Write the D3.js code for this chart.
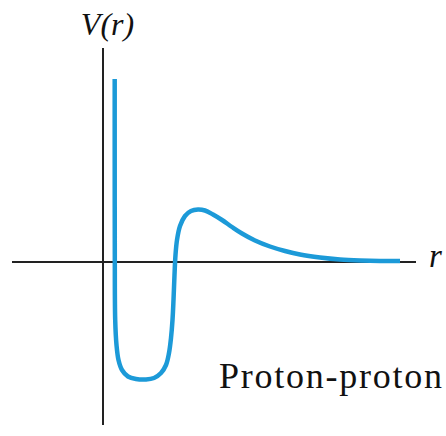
<!DOCTYPE html>
<html>
<head>
<meta charset="utf-8">
<script src="https://cdn.jsdelivr.net/npm/d3@7"></script>
</head>
<body style="margin:0;background:#fff">
<svg id="chart" width="446" height="436" style="display:block"></svg>
<script>
// Proton-proton potential V(r): separation r and potential value V (arbitrary units)
const rValues = [0.117, 0.117, 0.118, 0.122, 0.135, 0.155, 0.19, 0.25, 0.33, 0.43,
  0.51, 0.58, 0.63, 0.66, 0.68, 0.695, 0.705, 0.715, 0.725, 0.74,
  0.77, 0.82, 0.88, 0.95, 1.02, 1.10, 1.19, 1.29, 1.39, 1.52,
  1.67, 1.82, 1.97, 2.17, 2.37, 2.57, 2.77, 2.97];
const vValues = [1.83, 1.12, 0.12, -0.58, -0.83, -0.98, -1.08, -1.145, -1.17, -1.175,
  -1.16, -1.11, -1.03, -0.91, -0.76, -0.58, -0.38, -0.13, 0.07, 0.22,
  0.36, 0.46, 0.51, 0.525, 0.515, 0.475, 0.42, 0.35, 0.285, 0.215,
  0.155, 0.11, 0.075, 0.045, 0.025, 0.015, 0.01, 0.01];
const rExtent = [-0.91, 3.13];
const vExtent = [-1.63, 2.14];
const axisLabels = { y: "V(r)", x: "r" };
const curveLabel = "Proton-proton";

const svg = d3.select("#chart");
const x = d3.scaleLinear().domain(rExtent).range([12, 416]);
const y = d3.scaleLinear().domain(vExtent).range([425, 48]);

const axisColor = "#222";
const serif = "'Times New Roman', 'Liberation Serif', Times, serif";

// axes through the origin
svg.append("line")
  .attr("x1", x(rExtent[0])).attr("x2", x(rExtent[1]))
  .attr("y1", y(0)).attr("y2", y(0))
  .attr("stroke", axisColor).attr("stroke-width", 2);
svg.append("line")
  .attr("x1", x(0)).attr("x2", x(0))
  .attr("y1", y(vExtent[1])).attr("y2", y(vExtent[0]))
  .attr("stroke", axisColor).attr("stroke-width", 2);

// potential curve
const pts = rValues.map((r, i) => [r, vValues[i]]);
const line = d3.line()
  .x(d => x(d[0])).y(d => y(d[1]))
  .curve(d3.curveCatmullRom.alpha(0.5));
svg.append("path")
  .datum(pts)
  .attr("d", line)
  .attr("fill", "none")
  .attr("stroke", "#1c9ad8")
  .attr("stroke-width", 4.5)
  .attr("stroke-linejoin", "round");

// labels
const label = (txt, px, py, size, italic) => svg.append("text")
  .attr("x", px).attr("y", py)
  .attr("font-family", serif)
  .style("font-family", serif)
  .style("font-style", italic ? "italic" : "normal")
  .style("font-size", size + "px")
  .style("fill", "#111")
  .text(txt);

label(axisLabels.y, 107.5, 35, 32, true).attr("text-anchor", "middle");
label(axisLabels.x, 429, 267, 33, true);
label(curveLabel, 219, 388, 36, false)
  .attr("textLength", 223).attr("lengthAdjust", "spacing");
</script>
</body>
</html>
